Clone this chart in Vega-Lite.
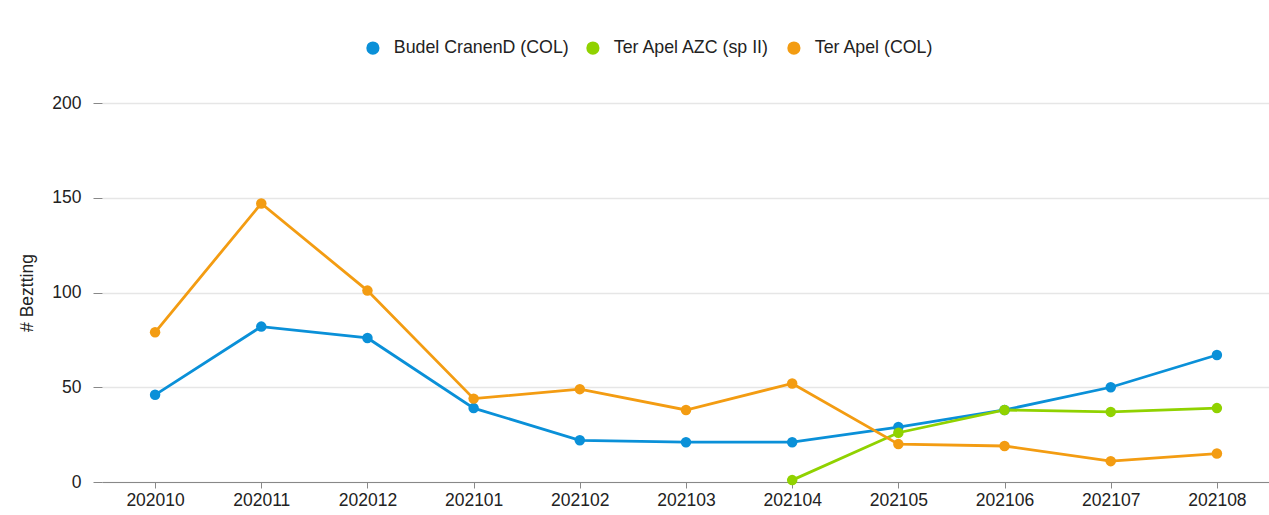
{
  "$schema": "https://vega.github.io/schema/vega-lite/v6.json",
  "width": 1168,
  "height": 379,
  "autosize": {"type": "none"},
  "padding": {"left": 102, "top": 103, "right": 0, "bottom": 33},
  "background": "white",
  "config": {
    "view": {"stroke": null},
    "font": "Liberation Sans",
    "axis": {"labelFont": "Liberation Sans", "titleFont": "Liberation Sans", "labelColor": "#222", "titleColor": "#222"},
    "legend": {"labelFont": "Liberation Sans"}
  },
  "data": {
    "values": [
      {"month": "202010", "location": "Budel CranenD (COL)", "count": 46},
      {"month": "202011", "location": "Budel CranenD (COL)", "count": 82},
      {"month": "202012", "location": "Budel CranenD (COL)", "count": 76},
      {"month": "202101", "location": "Budel CranenD (COL)", "count": 39},
      {"month": "202102", "location": "Budel CranenD (COL)", "count": 22},
      {"month": "202103", "location": "Budel CranenD (COL)", "count": 21},
      {"month": "202104", "location": "Budel CranenD (COL)", "count": 21},
      {"month": "202105", "location": "Budel CranenD (COL)", "count": 29},
      {"month": "202106", "location": "Budel CranenD (COL)", "count": 38},
      {"month": "202107", "location": "Budel CranenD (COL)", "count": 50},
      {"month": "202108", "location": "Budel CranenD (COL)", "count": 67},
      {"month": "202104", "location": "Ter Apel AZC (sp II)", "count": 1},
      {"month": "202105", "location": "Ter Apel AZC (sp II)", "count": 26},
      {"month": "202106", "location": "Ter Apel AZC (sp II)", "count": 38},
      {"month": "202107", "location": "Ter Apel AZC (sp II)", "count": 37},
      {"month": "202108", "location": "Ter Apel AZC (sp II)", "count": 39},
      {"month": "202010", "location": "Ter Apel (COL)", "count": 79},
      {"month": "202011", "location": "Ter Apel (COL)", "count": 147},
      {"month": "202012", "location": "Ter Apel (COL)", "count": 101},
      {"month": "202101", "location": "Ter Apel (COL)", "count": 44},
      {"month": "202102", "location": "Ter Apel (COL)", "count": 49},
      {"month": "202103", "location": "Ter Apel (COL)", "count": 38},
      {"month": "202104", "location": "Ter Apel (COL)", "count": 52},
      {"month": "202105", "location": "Ter Apel (COL)", "count": 20},
      {"month": "202106", "location": "Ter Apel (COL)", "count": 19},
      {"month": "202107", "location": "Ter Apel (COL)", "count": 11},
      {"month": "202108", "location": "Ter Apel (COL)", "count": 15}
    ]
  },
  "encoding": {
    "x": {
      "field": "month", "type": "ordinal",
      "scale": {"type": "point", "padding": 0.5},
      "axis": {
        "title": null, "labelAngle": 0, "labelFontSize": 17.5, "labelPadding": 3,
        "domainColor": "#888", "tickColor": "#888", "tickSize": 6, "grid": false
      }
    },
    "y": {
      "field": "count", "type": "quantitative",
      "scale": {"domain": [0, 200]},
      "axis": {
        "title": "# Beztting", "titleFontSize": 17.5, "titleFontWeight": "normal", "titlePadding": 15,
        "values": [0, 50, 100, 150, 200], "labelFontSize": 17.5, "labelPadding": 12,
        "domain": false, "tickColor": "#888", "tickSize": 9, "tickOffset": 0,
        "gridColor": "#e6e6e6", "gridWidth": 1.5
      }
    },
    "color": {
      "field": "location", "type": "nominal",
      "scale": {
        "domain": ["Budel CranenD (COL)", "Ter Apel AZC (sp II)", "Ter Apel (COL)"],
        "range": ["#0a90d8", "#90d200", "#f39c12"]
      },
      "legend": {
        "title": null, "orient": "none", "direction": "horizontal",
        "legendX": 262, "legendY": -64,
        "symbolType": "circle", "symbolSize": 175, "symbolOpacity": 1, "symbolStrokeWidth": 0,
        "labelFontSize": 17.8, "labelColor": "#222", "labelOffset": 12, "columnPadding": 15,
        "labelLimit": 400
      }
    }
  },
  "layer": [
    {"mark": {"type": "line", "strokeWidth": 2.8}},
    {"mark": {"type": "point", "filled": true, "size": 110, "opacity": 1}}
  ]
}
